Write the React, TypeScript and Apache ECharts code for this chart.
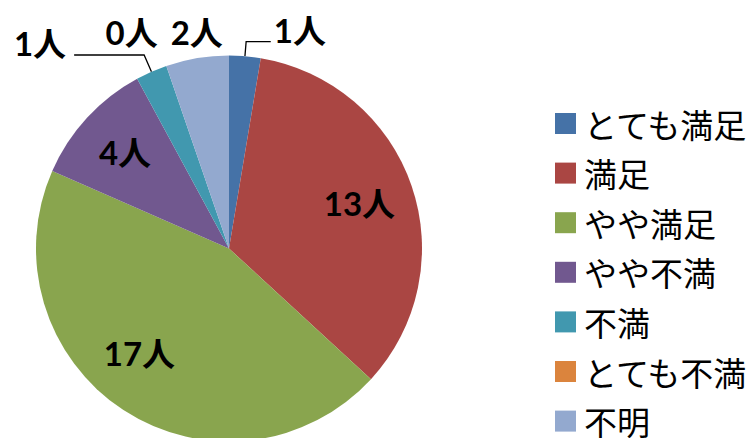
import { useEffect, useRef } from "react";
import * as echarts from "echarts";

// Satisfaction survey: number of respondents per answer
const categories = ["とても満足", "満足", "やや満足", "やや不満", "不満", "とても不満", "不明"];
const counts = [1, 13, 17, 4, 1, 0, 2];
const sliceColors = ["#4572A7", "#AA4643", "#89A54E", "#71588F", "#4198AF", "#DB843D", "#93A9CF"];
const unitSuffix = "人";

const CENTER: [number, number] = [229, 248.5];
const RADIUS = 193;

const labelFont = {
  fontFamily: "Lato, 'Noto Sans CJK JP', sans-serif",
  fontWeight: "bold" as const,
  fontSize: 33,
  color: "#000",
};

// A trailing empty line raises the text above its anchor by half the line height
const liftedLabel = (lift: number) =>
  lift > 0
    ? { formatter: `{c}${unitSuffix}\n`, lineHeight: lift * 2 }
    : { formatter: `{c}${unitSuffix}` };

// Small slices get their label outside the pie
type OutsideCfg = { length: number; length2: number; distance: number; lift: number; line: boolean };
const outsideCfg: Record<number, OutsideCfg> = {
  0: { length: 14.5, length2: 24.6, distance: 3, lift: 12, line: true },
  4: { length: 18.3, length2: 70, distance: 8, lift: 11.5, line: true },
  5: { length: 36, length2: 0, distance: -3, lift: 0, line: false },
  6: { length: 26.5, length2: 0, distance: -30, lift: 0, line: false },
};

// Large slices get their label inside; right padding nudges it left
type InsideCfg = { padRight: number; lift: number };
const insideCfg: Record<number, InsideCfg> = {
  1: { padRight: 4, lift: 0 },
  2: { padRight: 26, lift: 12.5 },
  3: { padRight: 2, lift: 2 },
};

export default function App() {
  const ref = useRef<HTMLDivElement>(null);

  useEffect(() => {
    document.body.style.margin = "0";
    if (!ref.current) return;
    const chart = echarts.init(ref.current, undefined, { renderer: "svg" });

    const mainData = categories.map((name, i) => {
      const o = outsideCfg[i];
      return {
        name,
        value: counts[i],
        itemStyle: { color: sliceColors[i] },
        label: o
          ? {
              show: true,
              position: "outside",
              distanceToLabelLine: o.distance,
              ...liftedLabel(o.lift),
            }
          : { show: false },
        labelLine: o
          ? { show: o.line, length: o.length, length2: o.length2 }
          : { show: false },
      };
    });

    const insideData = categories.map((name, i) => {
      const p = insideCfg[i];
      return {
        name,
        value: counts[i],
        itemStyle: { color: "rgba(0,0,0,0)" },
        label: p
          ? {
              show: true,
              position: "inside",
              padding: [0, p.padRight, 0, 0],
              ...liftedLabel(p.lift),
            }
          : { show: false },
        labelLine: { show: false },
      };
    });

    chart.setOption({
      animation: false,
      backgroundColor: "#fff",
      legend: {
        orient: "vertical",
        left: 555,
        top: 107,
        width: 200,
        height: 360,
        padding: 0,
        itemWidth: 21,
        itemHeight: 21,
        itemGap: 16.6,
        icon: "rect",
        selectedMode: false,
        data: categories,
        textStyle: {
          fontFamily: "'Noto Sans CJK JP', sans-serif",
          fontSize: 33,
          color: "#000",
          padding: [0, 0, 0, 3],
        },
      },
      series: [
        {
          type: "pie",
          name: "main",
          center: CENTER,
          radius: RADIUS,
          startAngle: 90,
          clockwise: true,
          avoidLabelOverlap: false,
          minShowLabelAngle: -1,
          emphasis: { disabled: true },
          label: { ...labelFont },
          labelLine: { lineStyle: { color: "#000", width: 1.3 } },
          data: mainData,
        },
        {
          type: "pie",
          name: "labels",
          silent: true,
          center: CENTER,
          radius: 274,
          startAngle: 90,
          clockwise: true,
          avoidLabelOverlap: false,
          emphasis: { disabled: true },
          label: { ...labelFont },
          data: insideData,
        },
      ],
    });

    return () => chart.dispose();
  }, []);

  return <div ref={ref} style={{ width: 755, height: 438 }} />;
}
